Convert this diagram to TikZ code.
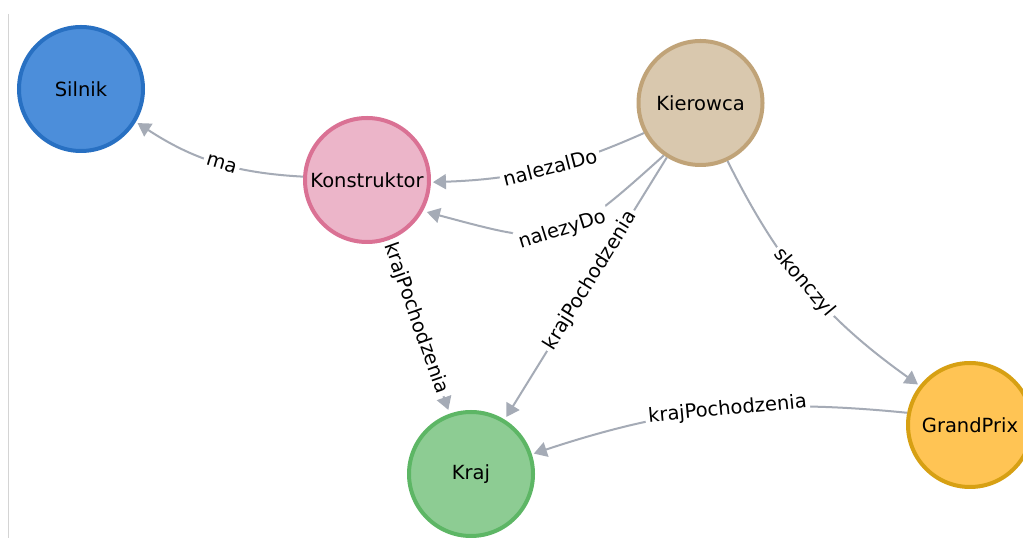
\documentclass[tikz,border=0pt]{standalone}
\usepackage{fontspec}
\setmainfont{DejaVu Sans}
\usetikzlibrary{arrows.meta}
\definecolor{edgec}{HTML}{A5ABB6}
\definecolor{leftgray}{HTML}{D4D4D4}
\definecolor{silF}{HTML}{4C8EDA}\definecolor{silB}{HTML}{2870C2}
\definecolor{konF}{HTML}{ECB5C9}\definecolor{konB}{HTML}{DA7194}
\definecolor{kieF}{HTML}{D9C8AE}\definecolor{kieB}{HTML}{C0A378}
\definecolor{krF}{HTML}{8DCC93}\definecolor{krB}{HTML}{5DB665}
\definecolor{gpF}{HTML}{FFC454}\definecolor{gpB}{HTML}{D7A013}
\begin{document}
\begin{tikzpicture}[x=1pt,y=1pt,
  ent/.style={circle, minimum size=124pt, inner sep=0pt, line width=4pt,
    font=\fontsize{19.5}{20}\selectfont, text=black},
  rel/.style={draw=edgec, line width=2pt, -{Triangle[length=13pt,width=15pt]}, shorten >=2pt},
  lbl/.style={fill=white, inner sep=3pt, font=\fontsize{19.5}{20}\selectfont, text=black, sloped}]
\useasboundingbox (0,0) rectangle (1023,538);
\clip (0,0) rectangle (1023,538);
\fill[white] (0,0) rectangle (1023,538);
\draw[leftgray, line width=1.2pt] (8.3,524) -- (8.3,0);

\node[ent, fill=silF, draw=silB] (sil) at (81,449) {Silnik};
\node[ent, fill=konF, draw=konB] (kon) at (367,358) {Konstruktor};
\node[ent, fill=kieF, draw=kieB] (kier) at (700.5,435) {Kierowca};
\node[ent, fill=krF, draw=krB] (kraj) at (471,64) {Kraj};
\node[ent, fill=gpF, draw=gpB] (gp) at (970,113) {GrandPrix};

\draw[rel] (kon.177) to[bend left=15] node[lbl, pos=0.46]{ma} (sil.-31);
\draw[rel] (kier.208) to[bend left=11] node[lbl, pos=0.45]{nalezalDo} (kon.-2);
\draw[rel, shorten >=3pt] (kier) -- node[lbl, pos=0.47]{krajPochodzenia} (kraj);
\draw[rel, shorten >=4pt] (kier.235) to[out=222, in=-15, looseness=1.45] node[lbl, pos=0.46]{nalezyDo} (kon.-29);
\draw[rel, shorten >=4pt] (kon) -- node[lbl, pos=0.45]{krajPochodzenia} (kraj);
\draw[rel] (kier.-65) to[bend right=14] node[lbl, pos=0.48]{skonczyl} (gp.142);
\draw[rel] (gp.169) to[bend right=12] node[lbl, pos=0.47]{krajPochodzenia} (kraj.18);
\end{tikzpicture}
\end{document}
